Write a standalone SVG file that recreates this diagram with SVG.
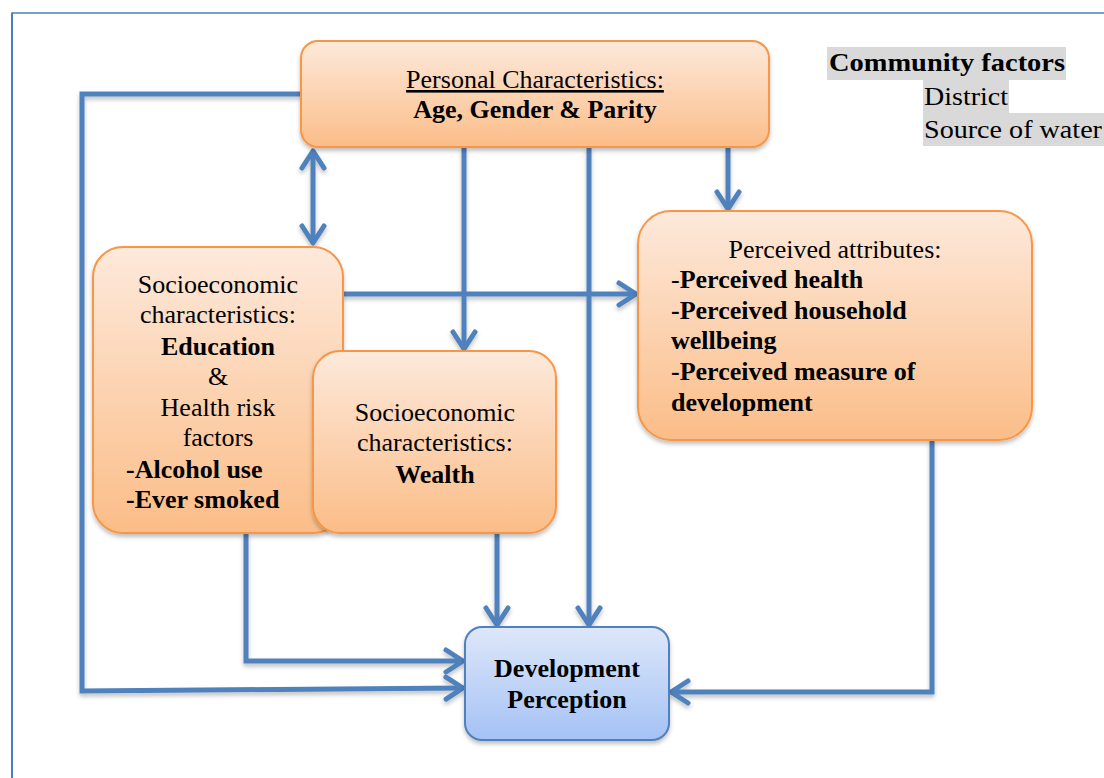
<svg xmlns="http://www.w3.org/2000/svg" width="1104" height="778" viewBox="0 0 1104 778">
<style>
text{font-family:"Liberation Serif","Times New Roman",serif;font-size:26px;fill:#000}
.b{font-weight:bold}
.c{text-anchor:middle}
.ob{fill:url(#og);stroke:#f79646;stroke-width:2}
.bb{fill:url(#bg);stroke:#4f81bd;stroke-width:2}
.cn{fill:none;stroke:#4f81bd;stroke-width:5;stroke-linejoin:miter}
.hl{fill:#d9d9d9}
</style>
<defs>
<linearGradient id="og" x1="0" y1="0" x2="0" y2="1"><stop offset="0" stop-color="#fde9db"/><stop offset="1" stop-color="#fbbd88"/></linearGradient>
<linearGradient id="bg" x1="0" y1="0" x2="0" y2="1"><stop offset="0" stop-color="#dde7f9"/><stop offset="1" stop-color="#a5c2f5"/></linearGradient>
<filter id="sh" x="-10%" y="-10%" width="120%" height="130%"><feDropShadow dx="0" dy="3" stdDeviation="2" flood-color="#000" flood-opacity="0.25"/></filter>
<marker id="ar" markerUnits="userSpaceOnUse" viewBox="-22 -15 26 30" markerWidth="26" markerHeight="30" refX="0" refY="0" orient="auto-start-reverse">
<path d="M-17,-11 L0,0 L-17,11" fill="none" stroke="#4f81bd" stroke-width="5" stroke-linecap="round" stroke-linejoin="round"/>
</marker>
</defs>
<rect width="1104" height="778" fill="#fff"/>
<g id="frame" stroke="#4a7ebb" fill="none">
<line x1="12" y1="13" x2="1104" y2="13" stroke-width="1.5"/>
<line x1="12" y1="12.5" x2="12" y2="778" stroke-width="2"/>
</g>
<g id="connectors" filter="url(#sh)">
<polyline class="cn" points="301,94 82,94 82,691 463,688" marker-end="url(#ar)"/>
<line class="cn" x1="313" y1="151" x2="313" y2="243" marker-start="url(#ar)" marker-end="url(#ar)"/>
<line class="cn" x1="464" y1="147" x2="464" y2="349" marker-end="url(#ar)"/>
<line class="cn" x1="589" y1="147" x2="589" y2="625" marker-end="url(#ar)"/>
<line class="cn" x1="728" y1="147" x2="728" y2="209" marker-end="url(#ar)"/>
<line class="cn" x1="343" y1="294" x2="636" y2="294" marker-end="url(#ar)"/>
<polyline class="cn" points="246,533 246,661 463,661" marker-end="url(#ar)"/>
<line class="cn" x1="497" y1="533" x2="497" y2="625" marker-end="url(#ar)"/>
<polyline class="cn" points="932,440 932,692 671,692" marker-end="url(#ar)"/>
</g>
<g id="personal">
<rect class="ob" x="301" y="41" width="468" height="106" rx="17" filter="url(#sh)"/>
<text class="c" x="535" y="88" text-decoration="underline">Personal Characteristics:</text>
<text class="c b" x="535" y="118">Age, Gender &amp; Parity</text>
</g>
<g id="socio-education">
<rect class="ob" x="93" y="247" width="250" height="286" rx="30" filter="url(#sh)"/>
<text class="c" x="218" y="293">Socioeconomic</text>
<text class="c" x="218" y="323">characteristics:</text>
<text class="c b" x="218" y="355">Education</text>
<text class="c" x="218" y="385">&amp;</text>
<text class="c" x="218" y="416">Health risk</text>
<text class="c" x="218" y="446">factors</text>
<text class="b" x="126" y="478">-Alcohol use</text>
<text class="b" x="126" y="508">-Ever smoked</text>
</g>
<g id="socio-wealth">
<rect class="ob" x="313" y="351" width="243" height="182" rx="27" filter="url(#sh)"/>
<text class="c" x="435" y="421">Socioeconomic</text>
<text class="c" x="435" y="451">characteristics:</text>
<text class="c b" x="435" y="483">Wealth</text>
</g>
<g id="perceived">
<rect class="ob" x="638" y="211" width="394" height="229" rx="33" filter="url(#sh)"/>
<text class="c" x="835" y="258">Perceived attributes:</text>
<text x="671" y="288">-<tspan class="b">Perceived health</tspan></text>
<text class="b" x="671" y="319">-Perceived household</text>
<text class="b" x="671" y="349">wellbeing</text>
<text class="b" x="671" y="380">-Perceived measure of</text>
<text class="b" x="671" y="411">development</text>
</g>
<g id="development">
<rect class="bb" x="465" y="627" width="204" height="113" rx="17" filter="url(#sh)"/>
<text class="c b" x="567" y="677">Development</text>
<text class="c b" x="567" y="708">Perception</text>
</g>
<g id="community">
<rect class="hl" x="827" y="47" width="239" height="33"/>
<rect class="hl" x="923" y="80" width="86" height="33"/>
<rect class="hl" x="923" y="113" width="181" height="33"/>
<text class="b" x="829" y="71" font-size="27" textLength="236" lengthAdjust="spacingAndGlyphs">Community factors</text>
<text x="924" y="105" font-size="27" textLength="84" lengthAdjust="spacingAndGlyphs">District</text>
<text x="924" y="138" font-size="27" textLength="178" lengthAdjust="spacingAndGlyphs">Source of water</text>
</g>
</svg>
